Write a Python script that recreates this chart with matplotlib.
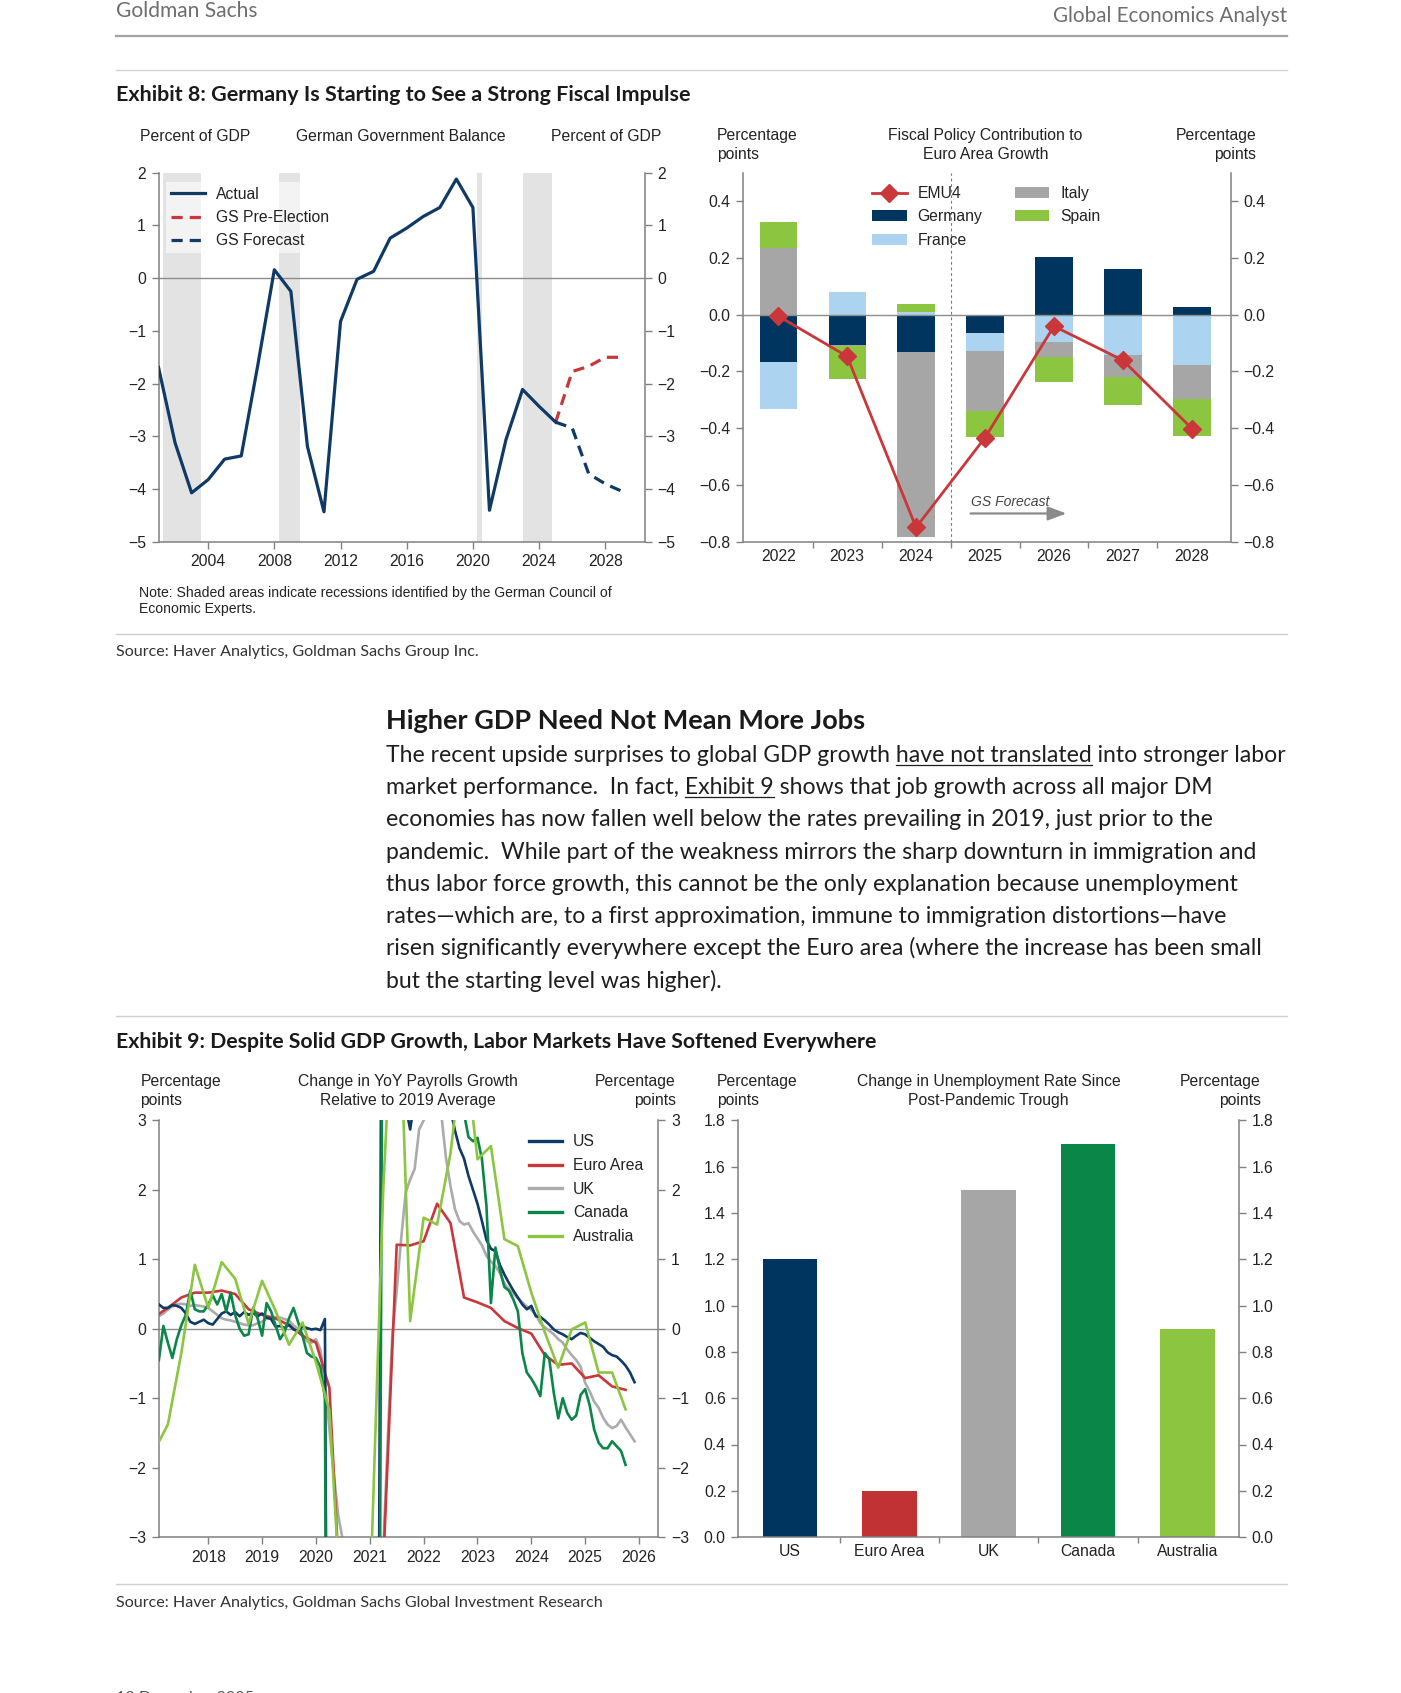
import numpy as np
import matplotlib
matplotlib.use("Agg")
import matplotlib.pyplot as plt
from matplotlib.lines import Line2D
from matplotlib.patches import Patch
from matplotlib.ticker import FuncFormatter

# ------------------------------------------------------------------ data
# Exhibit 8 (left): German government balance, % of GDP
gov_years = list(range(2001, 2026))
gov_actual = [-1.69, -3.12, -4.07, -3.82, -3.43, -3.37, -1.65, 0.16, -0.25, -3.19,
              -4.43, -0.82, -0.02, 0.13, 0.76, 0.95, 1.17, 1.34, 1.88, 1.34,
              -4.40, -3.06, -2.11, -2.43, -2.73]
fc_years = [2025, 2026, 2027, 2028, 2029]
gov_pre_election = [-2.73, -1.77, -1.67, -1.50, -1.50]
gov_forecast = [-2.73, -2.84, -3.71, -3.90, -4.04]
recession_start = [2001.25, 2008.26, 2020.25, 2023.00]
recession_end = [2003.58, 2009.53, 2020.52, 2024.80]

# Exhibit 8 (right): fiscal policy contribution to euro area growth, pp
fiscal_years = ["2022", "2023", "2024", "2025", "2026", "2027", "2028"]
fiscal_germany = [-0.168, -0.107, -0.133, -0.065, 0.202, 0.161, 0.028]
fiscal_france = [-0.164, 0.081, 0.010, -0.062, -0.096, -0.142, -0.178]
fiscal_italy = [0.233, -0.005, -0.649, -0.214, -0.055, -0.076, -0.120]
fiscal_spain = [0.093, -0.113, 0.028, -0.090, -0.088, -0.101, -0.128]
fiscal_emu4 = [-0.005, -0.147, -0.749, -0.433, -0.041, -0.161, -0.401]

# Exhibit 9 (left): change in YoY payrolls growth vs 2019 average, pp
# monthly series starting Feb 2017
payroll_start = 2017 + 1 / 12
us_payrolls = [
    0.35, 0.30, 0.30, 0.34, 0.33, 0.30, 0.22, 0.10, 0.07, 0.10, 0.13,
    0.08, 0.06, 0.14, 0.22, 0.25, 0.20, 0.24, 0.18, 0.24, 0.20, 0.23, 0.18,
    0.22, 0.16, 0.14, 0.03, 0.04, 0.01, 0.06, -0.01, -0.03, 0.03, 0.01, -0.01,
    0.00, -0.02, 0.14, -13.0, -11.5, -9.5, -8.5, -7.8, -7.3, -6.8, -6.5, -6.3,
    -6.1, -5.9, -4.6, 11.5, 9.0, 6.5, 4.8, 3.8, 3.2, 2.87, 3.3, 3.5,
    3.8, 4.0, 3.9, 3.7, 3.5, 3.3, 3.15, 2.85, 2.6, 2.45, 2.2, 2.0,
    1.8, 1.55, 1.28, 1.15, 1.12, 0.92, 0.78, 0.66, 0.55, 0.45, 0.35, 0.28,
    0.33, 0.18, 0.17, 0.12, 0.06, -0.01, -0.05, -0.08, -0.12, -0.15, -0.10, -0.06,
    -0.08, -0.13, -0.18, -0.22, -0.26, -0.34, -0.38, -0.40, -0.46, -0.53, -0.63, -0.77]
uk_payrolls = [
    0.18, 0.22, 0.28, 0.32, 0.35, 0.36, 0.35, 0.33, 0.34, 0.33, 0.32,
    0.30, 0.25, 0.20, 0.15, 0.13, 0.12, 0.10, 0.08, 0.06, 0.05, 0.05, 0.08,
    0.10, 0.15, 0.16, 0.17, 0.16, 0.14, 0.12, 0.05, 0.00, -0.08, -0.18, -0.20,
    -0.15, -0.30, -0.75, -1.45, -2.10, -2.70, -3.05, -3.60, -3.90, -4.10, -4.20, -4.30,
    -4.30, -4.20, -3.90, -3.20, -1.60, -0.10, 0.55, 1.30, 1.96, 2.15, 2.30, 2.87,
    3.00, 3.15, 3.30, 3.30, 3.05, 2.45, 2.05, 1.72, 1.55, 1.50, 1.52, 1.40,
    1.30, 1.20, 1.05, 0.97, 0.90, 0.80, 0.65, 0.57, 0.50, 0.44, 0.38, 0.32,
    0.27, 0.20, 0.08, 0.02, -0.03, -0.08, -0.15, -0.20, -0.30, -0.38, -0.45, -0.55,
    -0.78, -0.90, -1.05, -1.14, -1.28, -1.38, -1.43, -1.40, -1.31, -1.42, -1.52, -1.62]
canada_payrolls = [
    -0.45, 0.04, -0.20, -0.42, -0.15, 0.05, 0.20, 0.55, 0.28, 0.25, 0.25,
    0.35, 0.48, 0.35, 0.50, 0.25, 0.52, 0.20, 0.00, -0.10, -0.08, 0.30, 0.15,
    -0.10, 0.37, 0.25, 0.05, -0.15, -0.05, 0.15, 0.30, 0.10, -0.10, -0.35, -0.40,
    -0.42, -0.55, -1.00, -15.0, -13.0, -9.0, -7.0, -6.0, -5.0, -4.5, -4.2, -4.0,
    -4.5, -5.0, -8.0, 8.0, 9.0, 7.5, 6.5, 5.8, 5.2, 4.8, 4.6, 4.5,
    4.3, 4.5, 4.4, 4.1, 3.9, 3.7, 3.5, 3.35, 3.2, 3.1, 2.76, 2.70,
    2.75, 2.44, 1.77, 0.37, 1.17, 0.85, 0.60, 0.55, 0.42, 0.25, -0.35, -0.63,
    -0.72, -0.83, -0.97, -0.35, -0.44, -0.92, -1.29, -1.00, -1.21, -1.31, -1.25, -0.95,
    -0.87, -1.10, -1.45, -1.64, -1.72, -1.72, -1.62, -1.69, -1.76, -1.96]
# quarterly series starting Q1 2017
quarterly_start = 2017.0
ea_payrolls = [
    0.17, 0.30, 0.45, 0.52, 0.52, 0.55, 0.50, 0.28, 0.20, 0.15, 0.05, -0.10,
    -0.20, -0.85, -4.60, -3.80, -3.60, -3.40, 1.21, 1.20, 1.26, 1.80, 1.52, 0.45,
    0.38, 0.30, 0.11, 0.01, -0.07, -0.38, -0.52, -0.50, -0.71, -0.67, -0.83, -0.88]
australia_payrolls = [
    -1.75, -1.38, -0.35, 0.92, 0.30, 0.96, 0.72, 0.07, 0.69, 0.26, -0.23, 0.09,
    -0.48, -1.18, -4.50, -4.50, -4.00, 2.00, 6.00, 0.11, 1.60, 1.50, 2.53, 4.20,
    2.44, 2.63, 1.29, 1.19, 0.52, -0.05, -0.56, -0.01, 0.09, -0.63, -0.63, -1.16]

# Exhibit 9 (right): change in unemployment rate since post-pandemic trough, pp
unemp_countries = ["US", "Euro Area", "UK", "Canada", "Australia"]
unemp_change = [1.2, 0.2, 1.5, 1.7, 0.9]

# ------------------------------------------------------------------ style
NAVY = "#0f3a66"
RED = "#c9373a"
GREYL = "#ababab"
DGREEN = "#0b8649"
LGREEN = "#8cc540"
BAR_NAVY = "#00355f"
BAR_BLUE = "#acd3ef"
BAR_GREY = "#a6a6a6"
BAR_RED = "#c03233"
SP = "#808080"
TXT = "#222222"
CH = 11.3
DY = 2.0  # small global vertical text offset

W, H = 1401, 1693
plt.rcParams["font.family"] = ["Liberation Sans", "DejaVu Sans"]
plt.rcParams["axes.unicode_minus"] = True
fig = plt.figure(figsize=(W / 100, H / 100), dpi=100)
fig.patch.set_facecolor("white")
renderer = fig.canvas.get_renderer()
PAGE = ["Lato", "DejaVu Sans"]


def px_ax(l, t, r, b):
    return fig.add_axes([l / W, 1 - b / H, (r - l) / W, (b - t) / H])


def hline(y, color="#d0d0d0", lw=1.0, x0=115.5, x1=1286.7):
    fig.add_artist(Line2D([x0 / W, x1 / W], [1 - y / H, 1 - y / H],
                          transform=fig.transFigure, color=color, lw=lw))


def measure(s, size, **kw):
    t = fig.text(0, 0, s, fontsize=size, **kw)
    w = t.get_window_extent(renderer).width
    t.remove()
    return w


def fit(s, width, **kw):
    return 10.0 * width / measure(s, 10.0, **kw)


def put(x, y, s, size, ha="left", va="center", color=TXT, **kw):
    return fig.text(x / W, 1 - (y + DY) / H, s, fontsize=size, ha=ha, va=va,
                    color=color, **kw)


def minus_fmt(fmt):
    def f(v, p):
        if abs(v) < 1e-9:
            v = 0.0
        return (fmt % v).replace("-", "\u2212")
    return FuncFormatter(f)


def style(ax):
    ax.set_facecolor("none")
    ax.spines["top"].set_visible(False)
    for s in ("left", "right", "bottom"):
        ax.spines[s].set_color(SP)
        ax.spines[s].set_linewidth(1.1)
    ax.tick_params(axis="both", which="both", color=SP, labelcolor=TXT,
                   labelsize=CH, width=1.0, direction="out")
    ax.tick_params(axis="y", which="major", length=5, pad=4, left=True,
                   right=True, labelleft=True, labelright=True)


# ------------------------------------------------------------------ page header
s = fit("Goldman Sachs", 141.4, family=PAGE)
put(115.5, 8.6, "Goldman Sachs", s, color="#6e6e6e", family=PAGE)
s = fit("Global Economics Analyst", 234.0, family=PAGE)
put(1286.7, 14.0, "Global Economics Analyst", s, ha="right", color="#6e6e6e",
    family=PAGE)
hline(35.6, color="#a3a3a3", lw=1.6)
hline(70.2, color="#d3d3d3", lw=1.0)

t8 = "Exhibit 8: Germany Is Starting to See a Strong Fiscal Impulse"
s = fit(t8, 575.0, family=PAGE, weight="bold")
put(115.5, 92.8, t8, s, family=PAGE, weight="bold", color="#1a1a1a")

# ------------------------------------------------------------------ Exhibit 8 left
ax1 = px_ax(158.5, 172.7, 645.0, 541.9)
style(ax1)
for a, b in zip(recession_start, recession_end):
    ax1.axvspan(a, b, color="#e3e3e3", lw=0, zorder=0)
ax1.axhline(0, color="#8c8c8c", lw=1.0, zorder=1)
ax1.plot(fc_years, gov_pre_election, color=RED, lw=2.3, dashes=[3.5, 2.2], zorder=3)
ax1.plot(fc_years, gov_forecast, color=NAVY, lw=2.3, dashes=[3.5, 2.2], zorder=3)
ax1.plot(gov_years, gov_actual, color=NAVY, lw=2.3, zorder=4)
ax1.set_xlim(2001.0, 2030.4)
ax1.set_ylim(-5, 2)
ax1.set_yticks(range(-5, 3))
ax1.yaxis.set_major_formatter(minus_fmt("%d"))
ax1.set_xticks(range(2004, 2029, 4))
ax1.tick_params(axis="x", length=5, pad=4)
h1 = [Line2D([], [], color=NAVY, lw=2.3),
      Line2D([], [], color=RED, lw=2.3, dashes=[3.5, 2.2]),
      Line2D([], [], color=NAVY, lw=2.3, dashes=[3.5, 2.2])]
leg1 = ax1.legend(h1, ["Actual", "GS Pre-Election", "GS Forecast"],
                  loc="upper left", bbox_to_anchor=(165.8 / W, 1 - 182.0 / H),
                  bbox_transform=fig.transFigure, borderaxespad=0, borderpad=0.3,
                  handlelength=2.2, handletextpad=0.69, labelspacing=0.53,
                  fontsize=CH, frameon=True, fancybox=False, facecolor="white",
                  edgecolor="none", framealpha=0.6)
for t in leg1.get_texts():
    t.set_color(TXT)

put(140.3, 134.9, "Percent of GDP", CH)
put(400.5, 134.9, "German Government Balance", CH, ha="center")
put(661.7, 134.9, "Percent of GDP", CH, ha="right")

n1 = "Note: Shaded areas indicate recessions identified by the German Council of"
s = fit(n1, 471.7)
put(139.2, 591.5, n1, s)
put(139.2, 606.6, "Economic Experts.", s)

# ------------------------------------------------------------------ Exhibit 8 right
ax2 = px_ax(743.0, 172.5, 1230.5, 541.9)
style(ax2)
xf = np.arange(len(fiscal_years))
pos_base = np.zeros(len(xf))
neg_base = np.zeros(len(xf))
for vals, col in [(fiscal_germany, BAR_NAVY), (fiscal_france, BAR_BLUE),
                  (fiscal_italy, BAR_GREY), (fiscal_spain, LGREEN)]:
    v = np.array(vals)
    base = np.where(v >= 0, pos_base, neg_base)
    ax2.bar(xf, v, 0.54, bottom=base, color=col, lw=0, zorder=2)
    pos_base = pos_base + np.where(v >= 0, v, 0)
    neg_base = neg_base + np.where(v < 0, v, 0)
ax2.axhline(0, color="#8c8c8c", lw=1.0, zorder=3)
ax2.axvline(2.5, color="#7a7a7a", lw=0.8, ls=(0, (2.5, 2.5)), zorder=1)
ax2.plot(xf, fiscal_emu4, color=RED, lw=2.0, marker="D", ms=9, zorder=5)
ax2.set_xlim(-0.51, 6.56)
ax2.set_ylim(-0.8, 0.5)
ax2.set_yticks(np.round(np.arange(-0.8, 0.41, 0.2), 1))
ax2.yaxis.set_major_formatter(minus_fmt("%.1f"))
ax2.set_xticks(xf)
ax2.set_xticklabels(fiscal_years)
ax2.set_xticks(xf[:-1] + 0.5, minor=True)
ax2.tick_params(axis="x", which="major", length=0, pad=5)
ax2.tick_params(axis="x", which="minor", length=4)
ax2.text(2.80, -0.659, "GS Forecast", style="italic", fontsize=10.1,
         color="#444444", va="center")
ax2.annotate("", xy=(4.22, -0.70), xytext=(2.75, -0.70),
             arrowprops=dict(arrowstyle="-|>,head_length=0.8,head_width=0.3",
                             color="#8a8a8a", lw=1.6, mutation_scale=14))
h2 = [Line2D([], [], color=RED, lw=2.0, marker="D", ms=9),
      Patch(facecolor=BAR_NAVY, edgecolor="none"),
      Patch(facecolor=BAR_BLUE, edgecolor="none"),
      Patch(facecolor=BAR_GREY, edgecolor="none"),
      Patch(facecolor=LGREEN, edgecolor="none")]
leg2 = ax2.legend(h2, ["EMU4", "Germany", "France", "Italy", "Spain"], ncol=2,
                  loc="upper left", bbox_to_anchor=(872.0 / W, 1 - 186.0 / H),
                  bbox_transform=fig.transFigure, borderaxespad=0, borderpad=0,
                  handlelength=2.2, handletextpad=0.69, labelspacing=0.53,
                  columnspacing=2.07, fontsize=CH, frameon=False, numpoints=1)
for t in leg2.get_texts():
    t.set_color(TXT)

put(716.7, 133.8, "Percentage", CH)
put(716.7, 152.2, "points", CH)
put(985.5, 133.8, "Fiscal Policy Contribution to", CH, ha="center")
put(985.5, 152.2, "Euro Area Growth", CH, ha="center")
put(1256.4, 133.8, "Percentage", CH, ha="right")
put(1256.4, 152.2, "points", CH, ha="right")

hline(633.6)
src1 = "Source: Haver Analytics, Goldman Sachs Group Inc."
s = fit(src1, 362.7, family=PAGE)
put(115.5, 649.8, src1, s, family=PAGE, color="#333333")

# ------------------------------------------------------------------ body text
heading = "Higher GDP Need Not Mean More Jobs"
s = fit(heading, 481.4, family=PAGE, weight="bold")
put(386.4, 718.9, heading, s, family=PAGE, weight="bold", color="#1a1a1a")

body = [
    "The recent upside surprises to global GDP growth have not translated into stronger labor",
    "market performance.  In fact, Exhibit 9 shows that job growth across all major DM",
    "economies has now fallen well below the rates prevailing in 2019, just prior to the",
    "pandemic.  While part of the weakness mirrors the sharp downturn in immigration and",
    "thus labor force growth, this cannot be the only explanation because unemployment",
    "rates\u2014which are, to a first approximation, immune to immigration distortions\u2014have",
    "risen significantly everywhere except the Euro area (where the increase has been small",
    "but the starting level was higher).",
]
underlines = {0: ("The recent upside surprises to global GDP growth ", "have not translated"),
              1: ("market performance.  In fact, ", "Exhibit 9")}
bs = fit(body[0], 900.3, family=PAGE)
em = bs * 100 / 72
for i, line in enumerate(body):
    yc = 753.4 + 32.25 * i
    yb = yc + 0.28 * em
    put(386.4, yb, line, bs, va="baseline", family=PAGE, color="#1e1e1e")
    if i in underlines:
        pre, seg = underlines[i]
        wfull = measure(pre + seg, bs, family=PAGE)
        wseg = measure(seg, bs, family=PAGE)
        xa = 386.4 + wfull - wseg
        xb = 386.4 + wfull
        hline(yb + DY + 0.12 * em, color="#1e1e1e", lw=0.9, x0=xa, x1=xb)

# ------------------------------------------------------------------ Exhibit 9
hline(1015.7)
t9 = "Exhibit 9: Despite Solid GDP Growth, Labor Markets Have Softened Everywhere"
s = fit(t9, 763.1, family=PAGE, weight="bold")
put(115.5, 1039.5, t9, s, family=PAGE, weight="bold", color="#1a1a1a")

ax3 = px_ax(158.7, 1120.4, 658.4, 1537.1)
style(ax3)
ax3.axhline(0, color="#8c8c8c", lw=1.0, zorder=1)
xm_us = payroll_start + np.arange(len(us_payrolls)) / 12
xm_uk = payroll_start + np.arange(len(uk_payrolls)) / 12
xm_ca = payroll_start + np.arange(len(canada_payrolls)) / 12
xq_ea = quarterly_start + 0.25 * np.arange(len(ea_payrolls))
xq_au = quarterly_start + 0.25 * np.arange(len(australia_payrolls))
LW = 1.9
l_uk, = ax3.plot(xm_uk, uk_payrolls, color=GREYL, lw=LW, zorder=2)
l_ea, = ax3.plot(xq_ea, ea_payrolls, color=RED, lw=LW, zorder=3)
l_us, = ax3.plot(xm_us, us_payrolls, color=NAVY, lw=LW, zorder=4)
l_ca, = ax3.plot(xm_ca, canada_payrolls, color=DGREEN, lw=LW, zorder=5)
l_au, = ax3.plot(xq_au, australia_payrolls, color=LGREEN, lw=LW, zorder=6)
ax3.set_xlim(2017.08, 2026.36)
ax3.set_ylim(-3, 3)
ax3.set_yticks(range(-3, 4))
ax3.yaxis.set_major_formatter(minus_fmt("%d"))
ax3.set_xticks(range(2018, 2027))
ax3.tick_params(axis="x", length=5, pad=4)
leg3 = ax3.legend([l_us, l_ea, l_uk, l_ca, l_au],
                  ["US", "Euro Area", "UK", "Canada", "Australia"],
                  loc="upper left", bbox_to_anchor=(528.9 / W, 1 - 1134.5 / H),
                  bbox_transform=fig.transFigure, borderaxespad=0, borderpad=0,
                  handlelength=2.13, handletextpad=0.69, labelspacing=0.55,
                  fontsize=CH, frameon=False)
for t in leg3.get_texts():
    t.set_color(TXT)
for lh in leg3.get_lines():
    lh.set_linewidth(2.4)

put(140.3, 1079.4, "Percentage", CH)
put(140.3, 1098.8, "points", CH)
put(408.0, 1079.4, "Change in YoY Payrolls Growth", CH, ha="center")
put(408.0, 1098.8, "Relative to 2019 Average", CH, ha="center")
put(675.7, 1079.4, "Percentage", CH, ha="right")
put(675.7, 1098.8, "points", CH, ha="right")

ax4 = px_ax(738.3, 1120.4, 1239.2, 1537.1)
style(ax4)
xu = np.arange(len(unemp_countries))
ax4.bar(xu, unemp_change, 0.55,
        color=[BAR_NAVY, BAR_RED, BAR_GREY, DGREEN, LGREEN], lw=0, zorder=2)
ax4.set_xlim(-0.52, 4.52)
ax4.set_ylim(0, 1.8)
ax4.set_yticks(np.round(np.arange(0, 1.81, 0.2), 1))
ax4.yaxis.set_major_formatter(minus_fmt("%.1f"))
ax4.set_xticks(xu)
ax4.set_xticklabels(unemp_countries)
ax4.set_xticks(xu[:-1] + 0.5, minor=True)
ax4.tick_params(axis="x", which="major", length=0, pad=5)
ax4.tick_params(axis="x", which="minor", length=4)

put(716.7, 1079.4, "Percentage", CH)
put(716.7, 1098.8, "points", CH)
put(988.7, 1079.4, "Change in Unemployment Rate Since", CH, ha="center")
put(988.7, 1098.8, "Post-Pandemic Trough", CH, ha="center")
put(1260.7, 1079.4, "Percentage", CH, ha="right")
put(1260.7, 1098.8, "points", CH, ha="right")

hline(1583.5)
src2 = "Source: Haver Analytics, Goldman Sachs Global Investment Research"
s = fit(src2, 486.8, family=PAGE)
put(115.5, 1600.8, src2, s, family=PAGE, color="#333333")

put(115.5, 1700.5, "12 December 2025", s, va="baseline", family=PAGE,
    color="#555555")

fig.savefig("out.png", dpi=100, facecolor="white")
